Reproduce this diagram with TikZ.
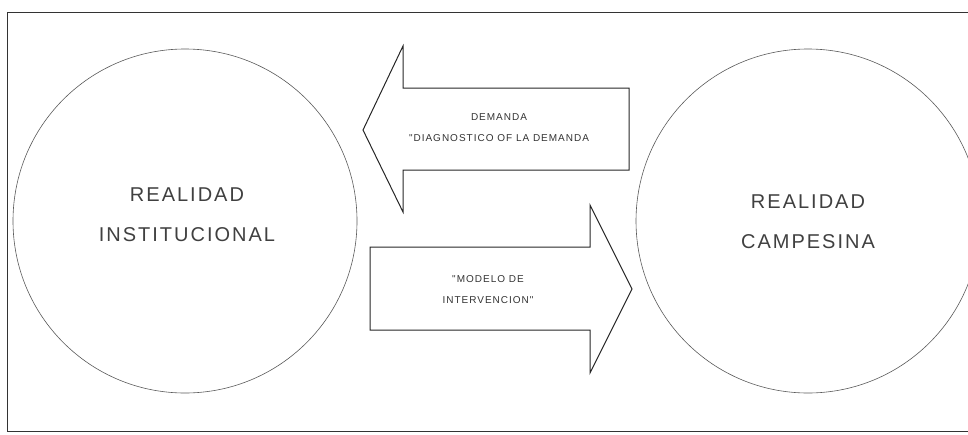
\documentclass[tikz,border=0pt]{standalone}
\usepackage{fontspec}
\newfontfamily\plotter[LetterSpace=10]{Liberation Sans}
\tikzset{
  realidad/.style = {align=center, text=black!75, font=\plotter\fontsize{20}{40}\selectfont},
  leyenda/.style = {align=center, text=black!80, font=\plotter\fontsize{10}{21}\selectfont},
  flecha/.style = {draw=black!85, line width=1pt, line join=miter}
}

\begin{document}
\begin{tikzpicture}[x=1pt,y=-1pt]
    \useasboundingbox (0,0) rectangle (968,434);
    % marco
    \draw [black!80, line width=0.9pt] (968,12) -- (7,12) -- (7,431) -- (968,431);
    % las dos realidades
    \coordinate (I) at (185,221);
    \coordinate (C) at (808,221);
    \draw [black!65, line width=0.6pt] (I) circle (172pt);
    \draw [black!65, line width=0.6pt] (C) circle (172pt);
    \node (institucional) at (187,215) [realidad] {REALIDAD\\INSTITUCIONAL};
    \node (campesina) at (808,222) [realidad] {REALIDAD\\CAMPESINA};
    % flecha hacia la institucion
    \draw [flecha] (363,130) -- (403,46) -- (403,88) -- (629,88) -- (629,170)
        -- (403,170) -- (403,212) -- cycle;
    \node (demanda) at (499,128) [leyenda] {DEMANDA\\"DIAGNOSTICO OF LA DEMANDA};
    % flecha hacia los campesinos
    \draw [flecha] (632,289) -- (590,205) -- (590,247) -- (370,247) -- (370,330)
        -- (590,330) -- (590,373) -- cycle;
    \node (modelo) at (488,290) [leyenda] {"MODELO DE\\INTERVENCION"};
\end{tikzpicture}
\end{document}
